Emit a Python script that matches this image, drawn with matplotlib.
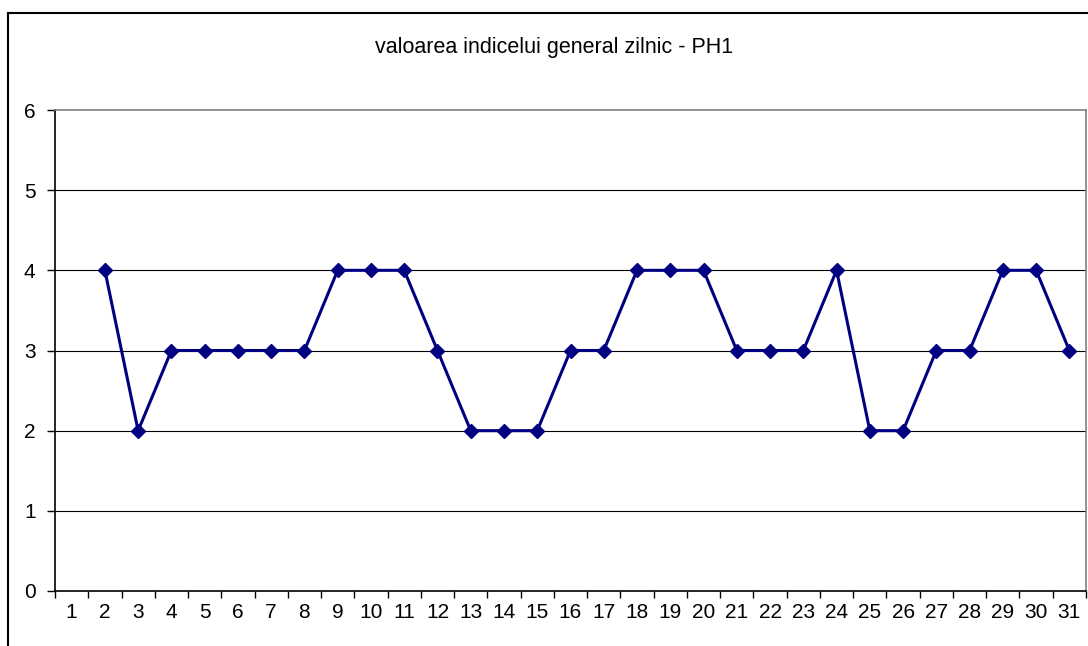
import matplotlib.pyplot as plt
from matplotlib.lines import Line2D

days = list(range(1, 32))
values = [None, 4, 2, 3, 3, 3, 3, 3, 4, 4, 4, 3, 2, 2, 2, 3, 3, 4, 4, 4,
          3, 3, 3, 4, 2, 2, 3, 3, 4, 4, 3]
title = 'valoarea indicelui general zilnic - PH1'

plt.rcParams['font.family'] = ['Liberation Sans', 'DejaVu Sans']

W, H = 1088, 646
fig = plt.figure(figsize=(W / 100, H / 100), dpi=100)
ax = fig.add_axes([55 / W, 1 - 591 / H, 1031 / W, 481 / H])

xs = [d for d, v in zip(days, values) if v is not None]
ys = [v for v in values if v is not None]
ax.plot(xs, ys, color='#000080', lw=2.2, marker='D', ms=7.5, zorder=3)

ax.set_xlim(0.5, 31.5)
ax.set_ylim(0, 6)
ax.set_yticks(range(0, 7))
ax.set_xticks(days)
ax.set_xticks([d + 0.5 for d in range(0, 32)], minor=True)
ax.tick_params(axis='x', which='major', length=0, pad=9, labelsize=15)
ax.tick_params(axis='x', which='minor', length=5, width=1, color='black', direction='out')
ax.tick_params(axis='y', length=6, width=1, pad=8, labelsize=15)
for y in range(1, 6):
    ax.axhline(y, color='black', lw=0.8, zorder=1)

for s in ['top', 'right']:
    ax.spines[s].set_color('#808080')
    ax.spines[s].set_linewidth(1.2)
for s in ['left', 'bottom']:
    ax.spines[s].set_color('black')
    ax.spines[s].set_linewidth(1.2)

fig.text(554 / W, 1 - 47 / H, title, ha='center', va='center', fontsize=15.5)

# outer chart border (left and top edges visible)
fig.add_artist(Line2D([8 / W, 8 / W], [0, 1 - 13 / H], color='black', lw=1.5, transform=fig.transFigure))
fig.add_artist(Line2D([8 / W, 1], [1 - 13 / H, 1 - 13 / H], color='black', lw=1.5, transform=fig.transFigure))

fig.savefig('out.png', dpi=100)
